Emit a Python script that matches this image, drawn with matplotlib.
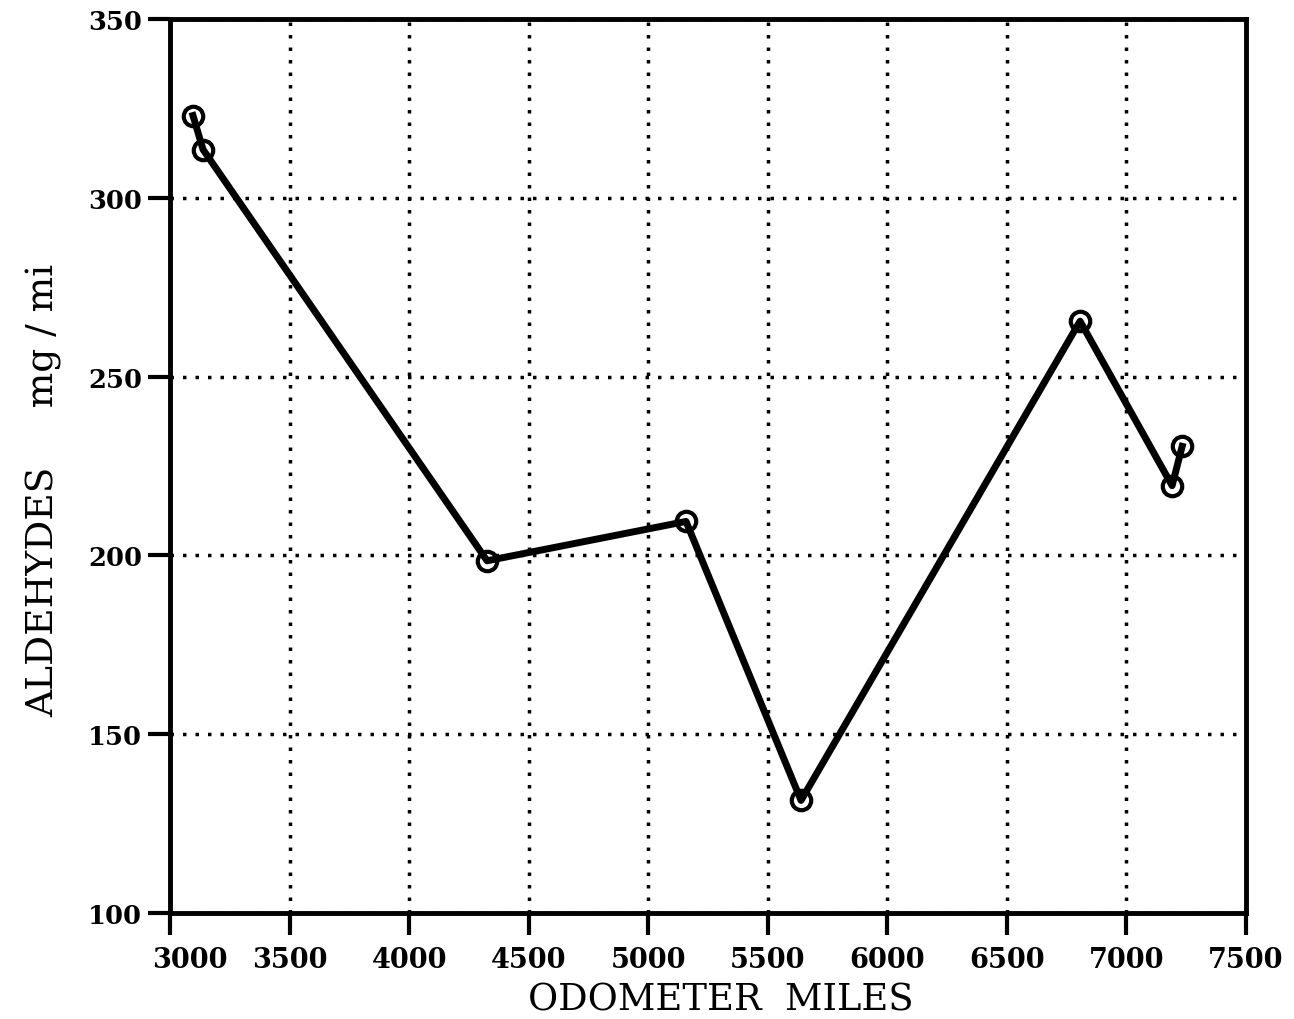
import matplotlib
matplotlib.use("Agg")
import matplotlib.pyplot as plt
import matplotlib.transforms as mtransforms

# odometer readings and aldehyde emissions
miles = [3096, 3138, 4326, 5158, 5639, 6806, 7191, 7233]
aldehydes = [323, 313.5, 198.5, 209.5, 131.5, 265.5, 219.5, 230.5]

x_ticks = [3000, 3500, 4000, 4500, 5000, 5500, 6000, 6500, 7000, 7500]
y_ticks = [100, 150, 200, 250, 300, 350]

plt.rcParams['font.family'] = ['DejaVu Serif']

fig = plt.figure(figsize=(12.94, 10.2), dpi=100)
ax = fig.add_axes([0.1314, 0.1039, 0.8315, 0.8765])

ax.plot(miles, aldehydes, color='black', linewidth=5, zorder=3,
        marker='o', markersize=14, markerfacecolor='none',
        markeredgecolor='black', markeredgewidth=3)

ax.set_xlim(3000, 7500)
ax.set_ylim(100, 350)
ax.set_xticks(x_ticks)
ax.set_yticks(y_ticks)
ax.set_xticklabels([str(t) for t in x_ticks], fontsize=19.5, fontweight='bold')
ax.set_yticklabels([str(t) for t in y_ticks], fontsize=18.5, fontweight='bold')

ax.grid(True, color='black', linestyle=(0, (1, 2.6)), linewidth=2.5)
ax.tick_params(direction='out', length=16, width=3)
ax.tick_params(axis='x', pad=8)
ax.tick_params(axis='y', pad=4)

# first x label sits a bit to the right of its tick, clear of "100"
lab0 = ax.xaxis.get_major_ticks()[0].label1
lab0.set_transform(lab0.get_transform() +
                   mtransforms.ScaledTranslation(20 / 100, 0, fig.dpi_scale_trans))

for s in ax.spines.values():
    s.set_linewidth(3.5)

ax.set_xlabel('ODOMETER  MILES', fontsize=26.5)
ax.xaxis.set_label_coords(0.512, -0.077)
ax.set_ylabel('ALDEHYDES     mg / mi', fontsize=27)
ax.yaxis.set_label_coords(-0.100, 0.474)

fig.savefig('out.png', dpi=100)
